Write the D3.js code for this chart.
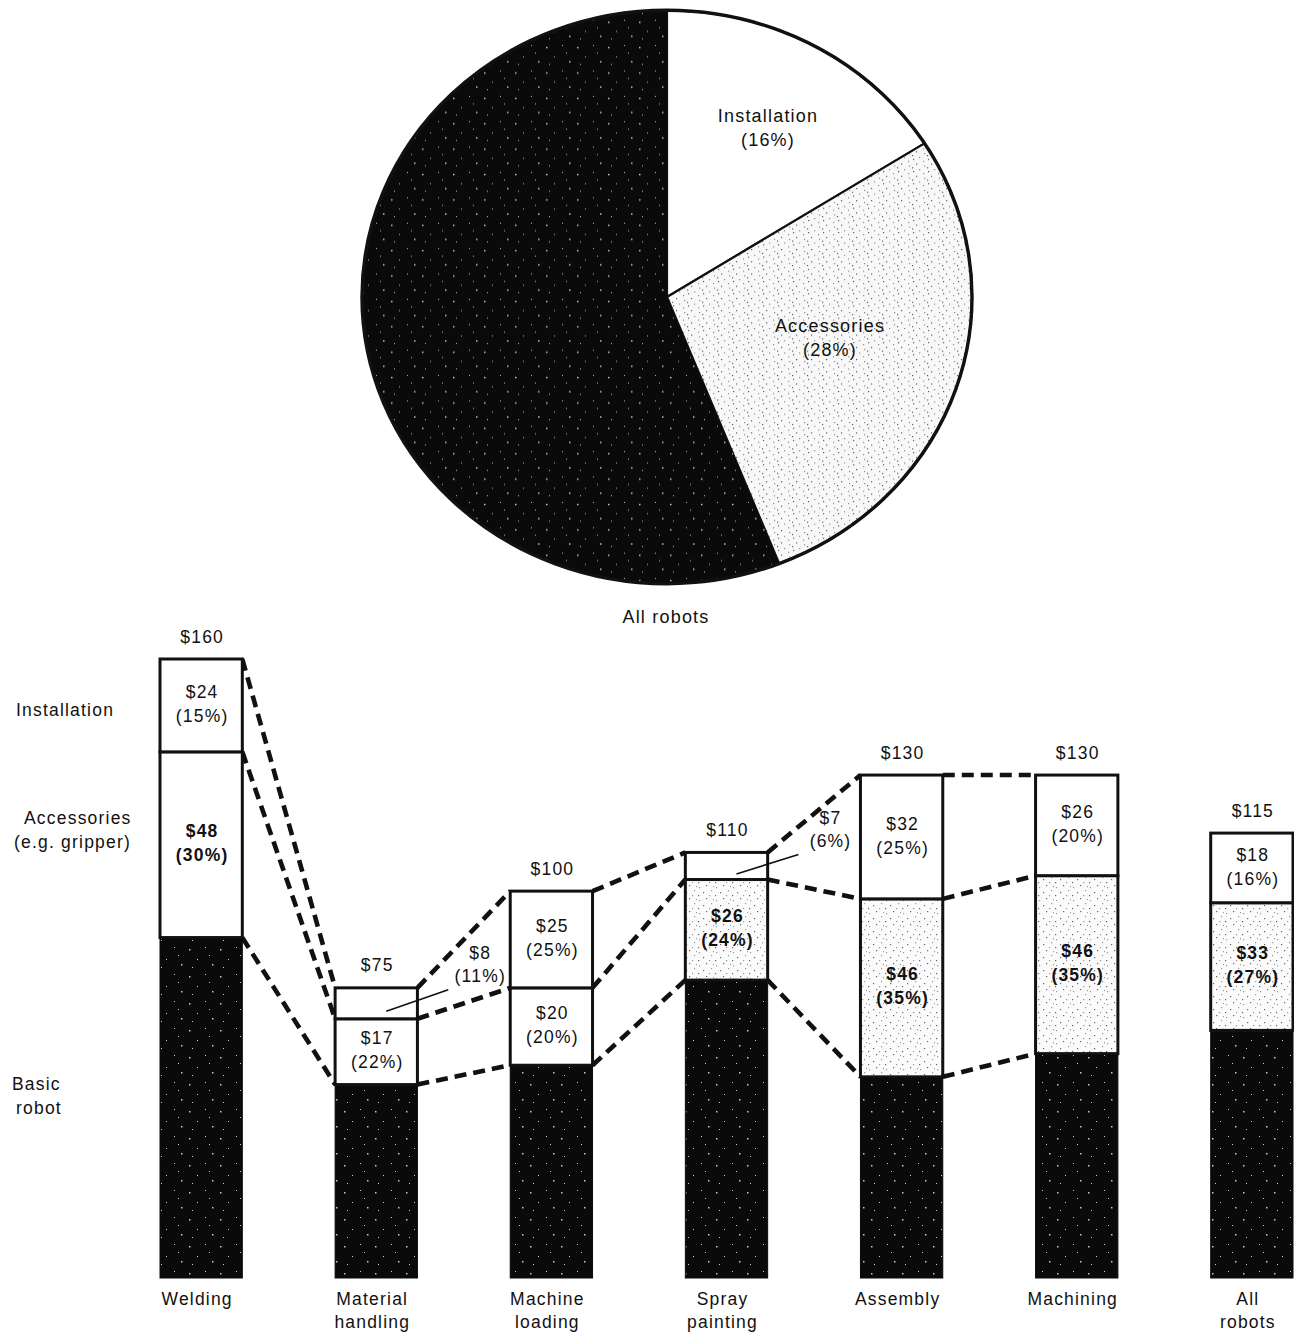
<!DOCTYPE html>
<html>
<head>
<meta charset="utf-8">
<script src="https://cdn.jsdelivr.net/npm/d3@7"></script>
<style>
  html, body { margin: 0; padding: 0; background: #fff; }
  svg { display: block; }
  text { font-family: "Liberation Sans", Arial, Helvetica, sans-serif; fill: #111; letter-spacing: 1.2px; }
</style>
</head>
<body>
<svg id="chart" width="1294" height="1338"></svg>
<script>
// ---------------- DATA ----------------
const pieCategories = ["Installation", "Accessories", "Basic robot"];
const pieShares = [16, 28, 56];
const pieTitle = "All robots";

const categories = ["Welding", "Material handling", "Machine loading", "Spray painting", "Assembly", "Machining", "All robots"];
const totals = [160, 75, 100, 110, 130, 130, 115];
const installation = [24, 8, 25, 7, 32, 26, 18];
const installationPct = [15, 11, 25, 6, 25, 20, 16];
const accessories = [48, 17, 20, 26, 46, 46, 33];
const accessoriesPct = [30, 22, 20, 24, 35, 35, 27];
const stippledAccessories = [false, false, false, true, true, true, true];
const segmentNames = ["Installation", "Accessories\n(e.g. gripper)", "Basic\nrobot"];

// ---------------- SETUP ----------------
const svg = d3.select("#chart");
const defs = svg.append("defs");

// dark speckled pattern
const dark = defs.append("pattern").attr("id", "dark").attr("patternUnits", "userSpaceOnUse")
  .attr("width", 31).attr("height", 27);
dark.append("rect").attr("width", 31).attr("height", 27).attr("fill", "#0a0a0a");
[[3,4],[19,2],[11,14],[26,19],[6,22],[23,10]].forEach(([x,y],i) => {
  dark.append("rect").attr("x", x).attr("y", y).attr("width", i%3===0?1.5:1).attr("height", i%3===0?1.5:1).attr("fill", "#c8c8c8");
});
// light stipple pattern
const light = defs.append("pattern").attr("id", "light").attr("patternUnits", "userSpaceOnUse")
  .attr("width", 17).attr("height", 13);
light.append("rect").attr("width", 17).attr("height", 13).attr("fill", "#fbfbfb");
[[2,3],[9,1],[14,6],[6,8],[12,11],[1,11],[16,2]].forEach(([x,y],i) => {
  light.append("rect").attr("x", x).attr("y", y).attr("width", 1.2).attr("height", 1.2).attr("fill", i%2 ? "#666" : "#999");
});
// denser stipple for pie accessories
const light2 = defs.append("pattern").attr("id", "light2").attr("patternUnits", "userSpaceOnUse")
  .attr("width", 15).attr("height", 13);
light2.append("rect").attr("width", 15).attr("height", 13).attr("fill", "#f8f8f8");
[[2,3],[9,1],[12,7],[6,9],[1,11],[5,5]].forEach(([x,y],i) => {
  light2.append("rect").attr("x", x).attr("y", y).attr("width", 1.2).attr("height", 1.2).attr("fill", i%2 ? "#555" : "#888");
});

// ---------------- PIE ----------------
const pieCx = 667, pieCy = 297, pieR = 305, pieSy = 0.94;
const pieG = svg.append("g").attr("transform", `translate(${pieCx},${pieCy}) scale(1,${pieSy})`);
const pieData = pieCategories.map((c, i) => ({ name: c, value: pieShares[i] }));
const pie = d3.pie().value(d => d.value).sort(null);
const arcs = pie(pieData);
const arc = d3.arc().innerRadius(0).outerRadius(pieR);
const pieFills = ["#fff", "url(#light2)", "url(#dark)"];
pieG.selectAll("path.slice").data(arcs).join("path")
  .attr("class", "slice")
  .attr("d", arc)
  .attr("fill", (d, i) => pieFills[i])
  .attr("stroke", (d, i) => i === 2 ? "none" : "#111")
  .attr("stroke-width", 2.2)
  .attr("vector-effect", "non-scaling-stroke");
pieG.append("circle").attr("r", pieR).attr("fill", "none").attr("stroke", "#111").attr("stroke-width", 3.4)
  .attr("vector-effect", "non-scaling-stroke");

// pie labels
const pieLabelPos = [[768, 117], [830, 327]];
arcs.slice(0, 2).forEach((d, i) => {
  const [x, y] = pieLabelPos[i];
  svg.append("text").attr("x", x).attr("y", y).attr("text-anchor", "middle").attr("dominant-baseline", "middle")
    .attr("font-size", 18).text(d.data.name);
  svg.append("text").attr("x", x).attr("y", y + 24).attr("text-anchor", "middle").attr("dominant-baseline", "middle")
    .attr("font-size", 18).text(`(${d.data.value}%)`);
});
svg.append("text").attr("x", 666).attr("y", 618).attr("text-anchor", "middle").attr("dominant-baseline", "middle")
  .attr("font-size", 18).text(pieTitle);

// ---------------- BARS ----------------
const x = d3.scaleBand().domain(categories).range([160, 1293]).paddingInner(0.53).paddingOuter(0);
const y = d3.scaleLinear().domain([0, 160]).range([1278, 659]);
const bw = x.bandwidth();

const rows = categories.map((c, i) => {
  const basic = totals[i] - installation[i] - accessories[i];
  return {
    cat: c, i, total: totals[i], basic,
    segs: [
      { key: "basic", y0: 0, y1: basic },
      { key: "acc", y0: basic, y1: basic + accessories[i], v: accessories[i], p: accessoriesPct[i] },
      { key: "inst", y0: basic + accessories[i], y1: totals[i], v: installation[i], p: installationPct[i] }
    ]
  };
});

// dashed connectors (between consecutive bars, not to "All robots")
const connG = svg.append("g");
for (let i = 0; i < 5; i++) {
  const a = rows[i], b = rows[i + 1];
  const levels = [[a.total, b.total], [a.basic + accessories[i], b.basic + accessories[i + 1]], [a.basic, b.basic]];
  levels.forEach(([va, vb]) => {
    connG.append("line")
      .attr("x1", x(a.cat) + bw).attr("y1", y(va))
      .attr("x2", x(b.cat)).attr("y2", y(vb))
      .attr("stroke", "#111").attr("stroke-width", 4.6).attr("stroke-dasharray", "12,7");
  });
}

const barG = svg.append("g");
rows.forEach(r => {
  const bx = x(r.cat);
  r.segs.forEach(s => {
    let fill = "#fff";
    if (s.key === "basic") fill = "url(#dark)";
    if (s.key === "acc" && stippledAccessories[r.i]) fill = "url(#light)";
    barG.append("rect")
      .attr("x", bx).attr("y", y(s.y1)).attr("width", bw).attr("height", y(s.y0) - y(s.y1))
      .attr("fill", fill)
      .attr("stroke", s.key === "basic" ? "#0a0a0a" : "#111").attr("stroke-width", s.key === "basic" ? 1 : 3);
  });
  // total
  svg.append("text").attr("x", bx + bw / 2 + 1).attr("y", y(r.total) - 21).attr("text-anchor", "middle")
    .attr("dominant-baseline", "middle").attr("font-size", 17.5).text(`$${r.total}`);
  // segment labels
  r.segs.slice(1).forEach(s => {
    const top = y(s.y1), bot = y(s.y0);
    const h = bot - top;
    const bold = s.key === "acc" && (r.i === 0 || r.i >= 3);
    if (h > 40) {
      const mid = (top + bot) / 2;
      [`$${s.v}`, `(${s.p}%)`].forEach((t, k) => {
        svg.append("text").attr("x", bx + bw / 2 + 1).attr("y", mid - 12 + k * 24).attr("text-anchor", "middle")
          .attr("dominant-baseline", "middle").attr("font-size", 17.5)
          .attr("font-weight", bold ? "bold" : "normal").text(t);
      });
    } else {
      const cx = bx + bw / 2, mid = (top + bot) / 2;
      const lx = cx + 104, ly = top - 22;
      svg.append("line").attr("x1", cx + 10).attr("y1", mid + 8).attr("x2", cx + 72).attr("y2", top + 2)
        .attr("stroke", "#111").attr("stroke-width", 1.6);
      [`$${s.v}`, `(${s.p}%)`].forEach((t, k) => {
        svg.append("text").attr("x", lx).attr("y", ly - 11 + k * 23).attr("text-anchor", "middle")
          .attr("dominant-baseline", "middle").attr("font-size", 17.5).text(t);
      });
    }
  });
  // category label
  r.cat.split(" ").forEach((w, k) => {
    svg.append("text").attr("x", bx + bw / 2 - 4).attr("y", 1300 + k * 23).attr("text-anchor", "middle")
      .attr("dominant-baseline", "middle").attr("font-size", 17.5).text(w);
  });
});

// left-side segment legend labels
const legendPos = [[16, 711], [14, 819], [12, 1085]];
segmentNames.forEach((name, i) => {
  const lines = name.split("\n");
  lines.forEach((t, k) => {
    let lx = legendPos[i][0];
    if (i === 1 && k === 0) lx = 24;
    if (i === 2 && k === 1) lx = 16;
    svg.append("text").attr("x", lx).attr("y", legendPos[i][1] + k * 24).attr("dominant-baseline", "middle")
      .attr("font-size", 17.5).text(t);
  });
});
</script>
</body>
</html>
